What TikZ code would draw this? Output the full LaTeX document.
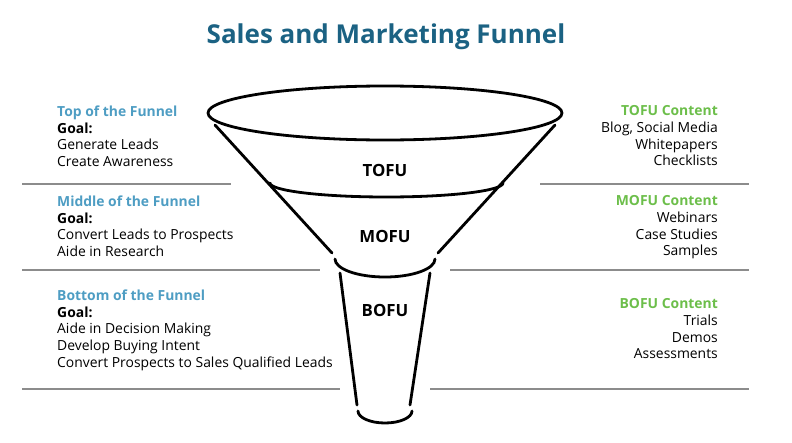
\documentclass[tikz,border=0pt]{standalone}
\usepackage{fontspec}
\setmainfont{Open Sans}
\usepackage{xcolor}
\usetikzlibrary{positioning}
\definecolor{titleblue}{RGB}{27,98,131}
\definecolor{headblue}{RGB}{78,157,195}
\definecolor{headgreen}{RGB}{108,190,74}
\definecolor{rulegray}{RGB}{140,140,140}

\begin{document}
\begin{tikzpicture}[x=1pt, y=-1pt,
    txt/.style={inner sep=0pt, font=\fontsize{13.9}{16.7}\selectfont},
    leftbox/.style={txt, anchor=north west, align=left},
    rightbox/.style={txt, anchor=north east, align=right},
    stage/.style={inner sep=0pt, font=\fontsize{16.8}{19}\selectfont\bfseries},
    funnel/.style={line width=2.8pt, line cap=round},
    sep/.style={rulegray, line width=2pt}
]
\useasboundingbox (0,0) rectangle (792,442);

\node[inner sep=0pt, text=titleblue, font=\fontsize{26}{30}\selectfont\bfseries] (title) at (386,37) {Sales and Marketing Funnel};

% funnel
\draw[funnel] (385,113) ellipse [x radius=177, y radius=27];
\draw[funnel] (215,125) -- (332,253);
\draw[funnel] (555,125) -- (438,253);
\draw[funnel] (270,183) arc [start angle=180, end angle=0, x radius=116.5, y radius=14];
\draw[funnel] (335,259) arc [start angle=180, end angle=0, x radius=50, y radius=18];
\draw[funnel] (340,273) -- (357,405);
\draw[funnel] (430,273) -- (410,405);
\draw[funnel] (358,411) arc [start angle=180, end angle=0, x radius=27, y radius=12];

\node[stage] (tofu) at (385,170) {TOFU};
\node[stage] (mofu) at (385,236) {MOFU};
\node[stage] (bofu) at (385,310) {BOFU};

% dividers
\draw[sep] (22,184) -- (231,184);
\draw[sep] (540,184) -- (749,184);
\draw[sep] (22,270) -- (320,270);
\draw[sep] (450,270) -- (749,270);
\draw[sep] (22,389) -- (340,389);
\draw[sep] (430,389) -- (749,389);

% left side
\node[leftbox] (topl) at (57,105.5) {\textcolor{headblue}{\bfseries Top of the Funnel}\\\textbf{Goal:}\\Generate Leads\\Create Awareness};
\node[leftbox] (midl) at (57,195.5) {\textcolor{headblue}{\bfseries Middle of the Funnel}\\\textbf{Goal:}\\Convert Leads to Prospects\\Aide in Research};
\node[leftbox] (botl) at (57,289.5) {\textcolor{headblue}{\bfseries Bottom of the Funnel}\\\textbf{Goal:}\\Aide in Decision Making\\Develop Buying Intent\\Convert Prospects to Sales Qualified Leads};

% right side
\node[rightbox] (topr) at (718,105.5) {\textcolor{headgreen}{\bfseries TOFU Content}\\Blog, Social Media\\Whitepapers\\Checklists};
\node[rightbox] (midr) at (718,195.5) {\textcolor{headgreen}{\bfseries MOFU Content}\\Webinars\\Case Studies\\Samples};
\node[rightbox] (botr) at (718,298.5) {\textcolor{headgreen}{\bfseries BOFU Content}\\Trials\\Demos\\Assessments};

\end{tikzpicture}
\end{document}
